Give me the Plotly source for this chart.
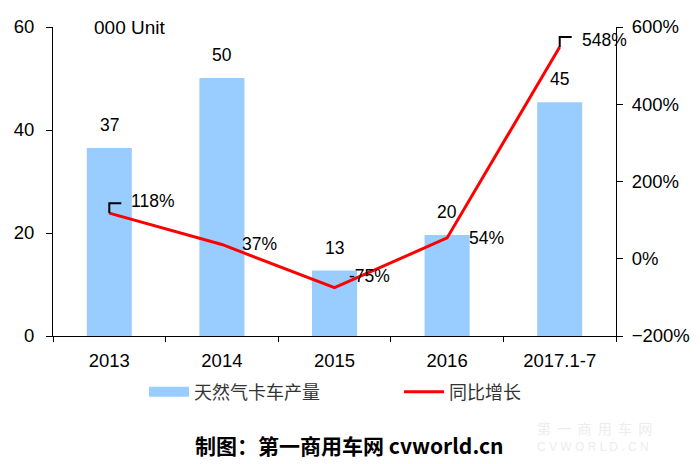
import plotly.graph_objects as go

categories = ["2013", "2014", "2015", "2016", "2017.1-7"]
production = [36.5, 50.1, 12.7, 19.6, 45.4]
production_labels = ["37", "50", "13", "20", "45"]
growth = [118, 37, -75, 54, 548]
growth_labels = ["118%", "37%", "-75%", "54%", "548%"]

bar_name = "天然气卡车产量"
line_name = "同比增长"
unit_text = "000 Unit"
footer_text = "<b>制图：第一商用车网 cvworld.cn</b>"

FONT = "Liberation Sans, Arial, sans-serif"
CJK = "Noto Sans CJK SC, sans-serif"

OFF = 8  # page body margin
W, H = 700 - OFF, 464 - OFF
L, T = 53 - OFF, 27 - OFF
R = W - (616 - OFF)
B = H - (336 - OFF)
PW, PH = W - L - R, H - T - B


def px(x):
    return (x - OFF - L) / PW


def py(y):
    return (H - B - (y - OFF)) / PH


fig = go.Figure()
fig.add_trace(go.Bar(
    x=categories, y=production, name=bar_name,
    marker=dict(color="#99CCFF", line=dict(width=0)),
    width=0.4, yaxis="y", showlegend=False, legendgroup="bar",
))
# legend-only entry drawn as a wide swatch
fig.add_trace(go.Scatter(
    x=[None], y=[None], name=bar_name, mode="lines",
    line=dict(color="#99CCFF", width=14), legend="legend", legendgroup="bar",
    hoverinfo="skip",
))
fig.add_trace(go.Scatter(
    x=categories, y=growth, name=line_name, mode="lines",
    line=dict(color="#FF0000", width=3), yaxis="y2", legend="legend2",
))

annotations = []
for i, (v, t) in enumerate(zip(production, production_labels)):
    annotations.append(dict(x=i, y=v, xref="x", yref="y", text=t, showarrow=False,
                            xanchor="center", yanchor="bottom", yshift=11,
                            font=dict(family=FONT, size=17.5, color="#000")))

label_offsets = [(20, 12), (18, 0), (12, 12), (20, 0), (20, 7)]
for i, (v, t, (dx, dy)) in enumerate(zip(growth, growth_labels, label_offsets)):
    annotations.append(dict(x=i, y=v, xref="x", yref="y2", text=t, showarrow=False,
                            xanchor="left", yanchor="middle", xshift=dx, yshift=dy,
                            font=dict(family=FONT, size=17.5, color="#000")))

annotations.append(dict(x=px(92), y=60, xref="paper", yref="y", text=unit_text,
                        showarrow=False, xanchor="left", yanchor="middle",
                        font=dict(family=FONT, size=19, color="#000")))
annotations.append(dict(x=px(349), y=py(445), xref="paper", yref="paper", text=footer_text,
                        showarrow=False, xanchor="center", yanchor="middle",
                        font=dict(family=CJK, size=21, color="#000")))
annotations.append(dict(x=px(535), y=py(428), xref="paper", yref="paper",
                        text="第  一  商  用  车  网", showarrow=False, xanchor="left",
                        yanchor="middle",
                        font=dict(family=CJK, size=14, color="#EDEDED")))
annotations.append(dict(x=px(535), y=py(447), xref="paper", yref="paper",
                        text="C V W O R L D . C N", showarrow=False, xanchor="left",
                        yanchor="middle",
                        font=dict(family=FONT, size=12, color="#EDEDED")))

shapes = []
for idx in [0, 4]:
    shapes.append(dict(type="path", xref="x", yref="y2", xsizemode="pixel",
                       ysizemode="pixel", xanchor=idx, yanchor=growth[idx],
                       path="M0,0 L0,10 L12,10",
                       line=dict(color="#000", width=2)))

legend_font = dict(family=CJK, size=18, color="#333")
tick_font = dict(family=FONT, size=18.5, color="#000")
fig.update_layout(
    width=W, height=H,
    margin=dict(l=L, r=R, t=T, b=B, autoexpand=False),
    paper_bgcolor="white", plot_bgcolor="white",
    showlegend=True,
    legend=dict(orientation="h", x=px(144), xanchor="left", y=py(392), yanchor="middle",
                font=legend_font, itemwidth=40, bgcolor="rgba(0,0,0,0)"),
    legend2=dict(orientation="h", x=px(399), xanchor="left", y=py(392), yanchor="middle",
                 font=legend_font, itemwidth=40, bgcolor="rgba(0,0,0,0)"),
    xaxis=dict(type="category", range=[-0.5, len(categories) - 0.5], autorange=False,
               automargin=False,
               showline=True, linecolor="#000", linewidth=1,
               ticks="outside", ticklen=5, tickcolor="#000", tickson="boundaries",
               ticklabelstandoff=8,
               tickfont=tick_font, showgrid=False, zeroline=False),
    yaxis=dict(range=[0, 60], dtick=20, automargin=False,
               showline=True, linecolor="#000", linewidth=1,
               ticks="outside", ticklen=6, tickcolor="#000", showgrid=False,
               ticklabelstandoff=8,
               zeroline=False, tickfont=tick_font),
    yaxis2=dict(range=[-200, 600], dtick=200, overlaying="y", side="right",
                automargin=False,
                ticksuffix="%", showline=True, linecolor="#000", linewidth=1,
                ticks="outside", ticklen=6, tickcolor="#000", showgrid=False,
                ticklabelstandoff=5,
                zeroline=False, tickfont=tick_font),
    annotations=annotations,
    shapes=shapes,
    bargap=0.6,
)

fig.write_html("out.html")
